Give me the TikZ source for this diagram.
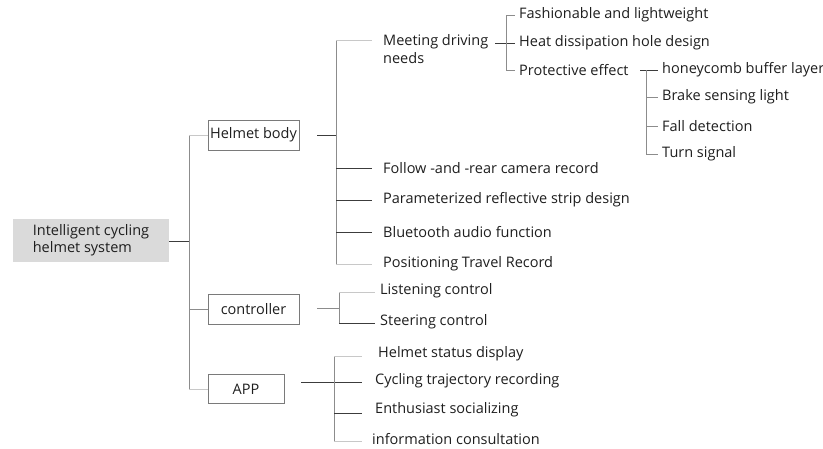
\documentclass[tikz,border=0pt]{standalone}
\usepackage{fontspec}
\setmainfont{Open Sans}
\definecolor{txtc}{HTML}{1E1E1E}
\definecolor{darkline}{HTML}{3C3C3C}
\definecolor{midline}{HTML}{8C8C8C}
\definecolor{lightline}{HTML}{C8C8C8}
\definecolor{boxgray}{HTML}{7A7A7A}
\definecolor{rootfill}{HTML}{DADADA}
\newcommand{\fsz}{\fontsize{14.5}{17.5}\selectfont}
\tikzset{
  txt/.style={font=\fsz, text=txtc, anchor=west, inner sep=0pt, align=left},
  boxn/.style={draw=boxgray, line width=0.8pt, minimum height=30pt, inner sep=0pt, font=\fsz, text=txtc},
  lnD/.style={draw=darkline, line width=1pt},
  lnG/.style={draw=midline, line width=1pt},
  lnL/.style={draw=lightline, line width=1pt},
}
\begin{document}
\begin{tikzpicture}[x=1pt,y=-1pt]
\useasboundingbox (0,0) rectangle (823,448);
% root
\node[fill=rootfill, minimum width=156pt, minimum height=43pt, inner sep=0pt, font=\fsz, text=txtc, align=left] (root) at (91,240) {Intelligent cycling\\helmet system};
% level 1 boxes
\node[boxn, minimum width=91pt] (hb) at (253.5,135) {Helmet body};
\node[boxn, minimum width=91pt] (ctl) at (253.5,309) {controller};
\node[boxn, minimum width=76pt, minimum height=29pt] (app) at (246,389) {APP};
% trunk
\coordinate (tr) at (189,241);
\coordinate (trT) at (189,135);
\coordinate (trC) at (189,309);
\coordinate (trB) at (189,389);
\draw[lnD] (root.east |- tr) -- (tr);
\draw[lnG] (trT) -- (trB);
\draw[lnL] (trT) -- (hb.west);
\draw[lnG] (trC) -- (ctl.west);
\draw[lnL] (trB) -- (app.west);
% helmet body children
\node[txt] (md) at (383,49) {Meeting driving\\needs};
\node[txt] (fr) at (383,168) {Follow -and -rear camera record};
\node[txt] (pr) at (383,200) {Parameterized reflective strip design};
\node[txt] (bt) at (383,232) {Bluetooth audio function};
\node[txt] (pt) at (383,264) {Positioning Travel Record};
\coordinate (hv) at (336,135);
\coordinate (hvT) at (336,40);
\coordinate (hvB) at (336,264);
\coordinate (mdS) at (372,40);
\coordinate (frS) at (372,168);
\coordinate (prS) at (372,200);
\coordinate (btS) at (372,232);
\coordinate (ptS) at (372,264);
\draw[lnD, shorten <=18pt] (hb.east) -- (hv);
\draw[lnG] (hvT) -- (hvB);
\draw[lnL] (hvT) -- (mdS);
\draw[lnD] (hv |- frS) -- (frS);
\draw[lnD] (hv |- prS) -- (prS);
\draw[lnD] (hv |- btS) -- (btS);
\draw[lnL] (hvB) -- (ptS);
% meeting driving needs children
\node[txt] (fl) at (519,15) {Fashionable and lightweight};
\node[txt] (hd) at (519,43) {Heat dissipation hole design};
\node[txt] (pe) at (519,70) {Protective effect};
\coordinate (mdO) at (495,43);
\coordinate (mv) at (506,43);
\coordinate (mvT) at (506,15);
\coordinate (mvB) at (506,70);
\draw[lnD] (mdO) -- (515,43);
\draw[lnG] (mvT) -- (mvB);
\draw[lnG] (mvT) -- (515,15);
\draw[lnG] (mvB) -- (515,70);
% protective effect children
\node[txt] (hc) at (662,70) {honeycomb buffer layer};
\node[txt] (bs) at (662,97) {Brake sensing light};
\node[txt] (fd) at (662,126) {Fall detection};
\node[txt] (ts) at (662,154) {Turn signal};
\coordinate (peO) at (640,70);
\coordinate (pv) at (646,70);
\coordinate (pvB) at (646,154);
\draw[lnD] (peO) -- (658,70);
\draw[lnG] (pv) -- (pvB);
\draw[lnG] (646,97) -- (658,97);
\draw[lnG] (646,126) -- (658,126);
\draw[lnG] (pvB) -- (658,154);
% controller children
\node[txt] (lc) at (380,291) {Listening control};
\node[txt] (sc) at (380,322) {Steering control};
\coordinate (cv) at (339,308);
\coordinate (cvT) at (339,292);
\coordinate (cvB) at (339,323);
\draw[lnG, shorten <=18pt] (ctl.east |- cv) -- (cv);
\draw[lnG] (cvT) -- (cvB);
\draw[lnL] (cvT) -- (375,292);
\draw[lnD] (cvB) -- (375,323);
% app children
\node[txt] (hs) at (378,354) {Helmet status display};
\node[txt] (ct) at (375,381) {Cycling trajectory recording};
\node[txt] (es) at (375,410) {Enthusiast socializing};
\node[txt] (ic) at (372,439) {information consultation};
\coordinate (av) at (334,382);
\coordinate (avT) at (334,356);
\coordinate (avE) at (334,413);
\coordinate (avB) at (334,441);
\draw[lnD, shorten <=17pt] (app.east |- av) -- (362,382);
\draw[lnG] (avT) -- (avB);
\draw[lnL] (avT) -- (362,356);
\draw[lnD] (avE) -- (362,413);
\draw[lnL] (avB) -- (362,441);
\end{tikzpicture}
\end{document}
